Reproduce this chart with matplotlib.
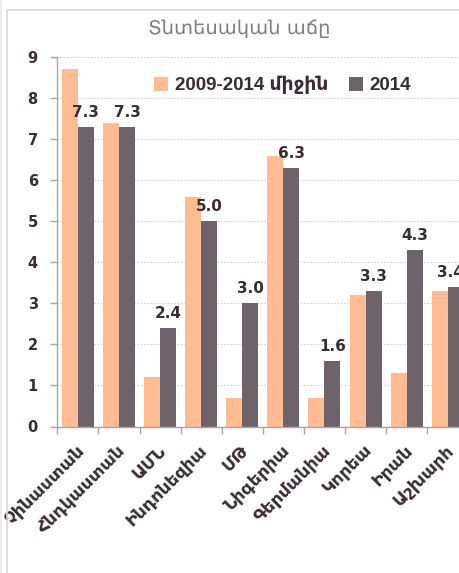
import numpy as np
import matplotlib.pyplot as plt
from matplotlib.patches import Rectangle
from matplotlib.lines import Line2D

countries = ['Չինաստան', 'Հնդկաստան', 'ԱՄՆ', 'Ինդոնեզիա', 'ՄԹ',
             'Նիգերիա', 'Գերմանիա', 'Կորեա', 'Իրան', 'Աշխարհ']
avg_2009_2014 = [8.7, 7.4, 1.2, 5.6, 0.7, 6.6, 0.7, 3.2, 1.3, 3.3]
growth_2014 = [7.3, 7.3, 2.4, 5.0, 3.0, 6.3, 1.6, 3.3, 4.3, 3.4]
series_names = ['2009-2014 միջին', '2014']

peach = '#FFBC93'
dark = '#6E6369'
txt = '#3A2B36'

fig = plt.figure(figsize=(4.6, 5.73), dpi=100)

# chart frame (cut off at right/bottom like the source screenshot)
fig.patches.append(Rectangle((7 / 460, -0.2), 2, 1.2 - 10 / 573,
                             transform=fig.transFigure, fill=False,
                             edgecolor='#D9D9D9', linewidth=1.2))
fig.lines.append(Line2D([1 / 460, 1 / 460], [0, 1], transform=fig.transFigure,
                        color='#EBEBEB', linewidth=1.5))

ax = fig.add_axes([57.3 / 460, 146.5 / 573, 411 / 460, 369.5 / 573])
x = np.arange(len(countries))
w = 0.39
ax.bar(x - w / 2, avg_2009_2014, w, color=peach, label=series_names[0], zorder=2)
bars = ax.bar(x + w / 2, growth_2014, w, color=dark, label=series_names[1], zorder=2)

for i, (b, v) in enumerate(zip(bars, growth_2014)):
    # last label nudged left so it stays mostly inside the frame
    dx = -4 if i == len(bars) - 1 else 0
    ax.annotate(f'{v:.1f}', (b.get_x() + b.get_width() / 2, v),
                xytext=(dx, 5), textcoords='offset points', ha='center', va='bottom',
                fontsize=11, fontweight='bold', color=txt)

ax.set_xlim(-0.5, len(countries) - 0.5)
ax.set_ylim(0, 9)
ax.set_yticks(range(0, 10))
ax.yaxis.grid(True, linestyle=(0, (1.5, 1.5)), color='#D0D0D0', linewidth=0.8, zorder=0)
ax.set_axisbelow(True)

for s in ['top', 'right']:
    ax.spines[s].set_visible(False)
for s in ['left', 'bottom']:
    ax.spines[s].set_color('#A6A6A6')
    ax.spines[s].set_linewidth(1.0)

ax.set_xticks(np.arange(-0.5, len(countries), 1.0))
ax.set_xticklabels([])
ax.tick_params(axis='x', length=5, color='#A6A6A6', width=1)
ax.set_xticks(x + 0.08, minor=True)
ax.set_xticklabels(countries, minor=True, rotation=45, ha='right', va='center',
                   rotation_mode='anchor', fontsize=12.5, fontweight='bold', color=txt)
ax.tick_params(axis='x', which='minor', length=0, pad=15)
ax.tick_params(axis='y', length=5, color='#A6A6A6', width=1, pad=9,
               labelsize=10.5, labelcolor=txt)
for lab in ax.get_yticklabels():
    lab.set_fontweight('bold')

leg = fig.legend(loc='center left', bbox_to_anchor=(154 / 460, 1 - 85 / 573),
                 ncol=2, frameon=False, handlelength=0.75, handleheight=0.75,
                 handletextpad=0.35, columnspacing=1.1, borderpad=0, borderaxespad=0,
                 prop={'family': ['Liberation Sans Narrow', 'Liberation Sans', 'DejaVu Sans'],
                       'weight': 'bold', 'size': 13.5})
for t in leg.get_texts():
    t.set_color(txt)

fig.text(239 / 460, 1 - 28 / 573, 'Տնտեսական աճը', ha='center', va='center',
         fontsize=14, color='#7F7F7F')

fig.savefig('out.png', dpi=100)
